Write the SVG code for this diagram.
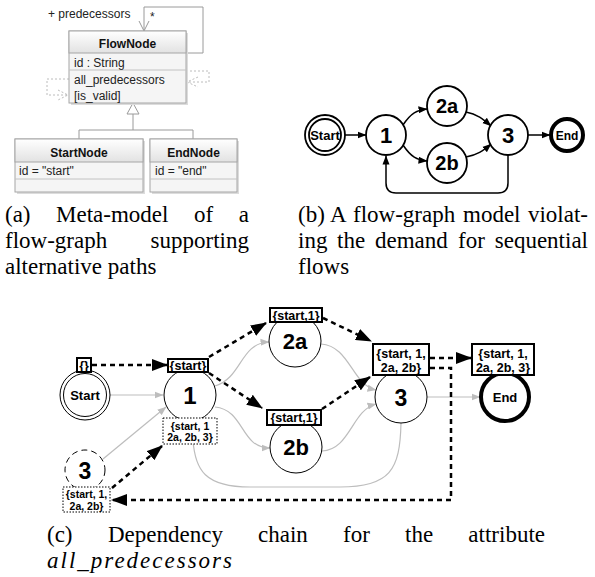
<svg xmlns="http://www.w3.org/2000/svg" width="595" height="577" viewBox="0 0 595 577">
<defs>
<linearGradient id="hdr" x1="0" y1="0" x2="0" y2="1"><stop offset="0" stop-color="#ffffff"/><stop offset="1" stop-color="#e2e2e2"/></linearGradient>
<marker id="ab" markerUnits="userSpaceOnUse" markerWidth="9" markerHeight="8" refX="8.5" refY="4" orient="auto"><path d="M0,0.5 L9,4 L0,7.5 z" fill="#000"/></marker>
<marker id="ad" markerUnits="userSpaceOnUse" markerWidth="16" markerHeight="12" refX="15" refY="6" orient="auto"><path d="M0,0 L16,6 L0,12 z" fill="#000"/></marker>
<marker id="ag" markerUnits="userSpaceOnUse" markerWidth="9" markerHeight="8" refX="8.5" refY="4" orient="auto"><path d="M0,0.5 L9,4 L0,7.5 z" fill="#bdbdbd"/></marker>
</defs>
<style>
.cap{font-family:"Liberation Serif","Times New Roman",serif;font-size:23px;fill:#000}
.capi{font-family:"Liberation Serif","Times New Roman",serif;font-size:23px;font-style:italic;letter-spacing:2px;fill:#000}
.uml{font-family:"Liberation Sans",Arial,sans-serif;font-size:12px;fill:#222}
.umlb{font-family:"Liberation Sans",Arial,sans-serif;font-size:12px;font-weight:bold;fill:#111;text-anchor:middle}
.box{fill:#f5f5f5;stroke:#a6a6a6;stroke-width:1}
.hd{fill:url(#hdr);stroke:#a6a6a6;stroke-width:1}
.shd{fill:#dcdcdc}
.div{stroke:#c2c2c2;stroke-width:1}
.uline{fill:none;stroke:#9a9a9a;stroke-width:1}
.udash{fill:none;stroke:#bcbcbc;stroke-width:1;stroke-dasharray:2 2}
.bn{fill:#fff;stroke:#000;stroke-width:1.8}
.bt{font-family:"Liberation Sans",Arial,sans-serif;font-weight:bold;text-anchor:middle;fill:#000}
.be{fill:none;stroke:#000;stroke-width:1.5}
.cn{fill:#fff;stroke:#000;stroke-width:1}
.ge{fill:none;stroke:#bdbdbd;stroke-width:1.2}
.de{fill:none;stroke:#000;stroke-width:2.5;stroke-dasharray:5 4}
.lb{fill:#fff;stroke:#000;stroke-width:2}
.lbd{fill:#fff;stroke:#000;stroke-width:1;stroke-dasharray:1.5 1.5}
.lt{font-family:"Liberation Sans",Arial,sans-serif;font-weight:bold;font-size:12.5px;text-anchor:middle;fill:#000}
.ls{font-family:"Liberation Sans",Arial,sans-serif;font-weight:bold;font-size:10.5px;text-anchor:middle;fill:#000}
</style>

<!-- (a) meta-model -->
<g id="a-connectors">
<path class="uline" d="M144,31 V7 H203 V53 H186"/>
<path class="uline" d="M139,21 L144,31 L149,21"/>
<path class="udash" d="M69,79 H47 V95 H69"/>
<path class="udash" d="M58,90 L68,95 L58,100"/>
<path class="udash" d="M186,71 H209 V82 H186"/>
<path class="udash" d="M198,77 L187,82 L198,87"/>
<path class="uline" d="M133,114 V130 M79,139 V130 H193 V139"/>
<path d="M133,103 L127,114 H139 z" fill="#fff" stroke="#9a9a9a"/>
<text class="uml" x="48" y="18">+ predecessors</text>
<text class="uml" x="150" y="21">*</text>
</g>
<g id="FlowNode">
<rect class="shd" x="71" y="33" width="117" height="72"/>
<rect class="box" x="69" y="31" width="117" height="72"/>
<rect class="hd" x="69" y="31" width="117" height="22"/>
<line class="div" x1="69" y1="70" x2="186" y2="70"/>
<text class="umlb" x="127.5" y="48">FlowNode</text>
<text class="uml" x="74" y="67">id : String</text>
<text class="uml" x="74" y="84">all_predecessors</text>
<text class="uml" x="74" y="100">[is_valid]</text>
</g>
<g id="StartNode">
<rect class="shd" x="17" y="141" width="128" height="53"/>
<rect class="box" x="15" y="139" width="128" height="53"/>
<rect class="hd" x="15" y="139" width="128" height="23"/>
<line class="div" x1="15" y1="179" x2="143" y2="179"/>
<text class="umlb" x="79" y="157">StartNode</text>
<text class="uml" x="19" y="175">id = "start"</text>
</g>
<g id="EndNode">
<rect class="shd" x="152" y="141" width="87" height="53"/>
<rect class="box" x="150" y="139" width="87" height="53"/>
<rect class="hd" x="150" y="139" width="87" height="23"/>
<line class="div" x1="150" y1="179" x2="237" y2="179"/>
<text class="umlb" x="193.5" y="157">EndNode</text>
<text class="uml" x="155" y="175">id = "end"</text>
</g>

<!-- (b) flow graph -->
<g id="b-connectors">
<line class="be" x1="345" y1="135" x2="366" y2="135" marker-end="url(#ab)"/>
<path class="be" d="M403,125 C411,113 417,110 427,109" marker-end="url(#ab)"/>
<path class="be" d="M403,145 C411,157 417,160 427,161" marker-end="url(#ab)"/>
<path class="be" d="M466,112 C477,114 483,119 491,126" marker-end="url(#ab)"/>
<path class="be" d="M466,157 C477,155 483,151 491,144" marker-end="url(#ab)"/>
<line class="be" x1="528" y1="135" x2="550" y2="135" marker-end="url(#ab)"/>
<path class="be" d="M508,155 V183 Q508,193 498,193 H396 Q386,193 386,183 V156" marker-end="url(#ab)"/>
</g>
<g id="b-Start"><circle class="bn" cx="325" cy="135" r="20"/><circle class="bn" cx="325" cy="135" r="16"/><text class="bt" x="325" y="139.5" font-size="13">Start</text></g>
<g id="b-1"><circle class="bn" cx="386" cy="135" r="20"/><text class="bt" x="386" y="143" font-size="22">1</text></g>
<g id="b-2a"><circle class="bn" cx="447" cy="106" r="20"/><text class="bt" x="447" y="113" font-size="20">2a</text></g>
<g id="b-2b"><circle class="bn" cx="447" cy="163" r="20"/><text class="bt" x="447" y="170" font-size="20">2b</text></g>
<g id="b-3"><circle class="bn" cx="508" cy="135" r="20"/><text class="bt" x="508" y="143" font-size="22">3</text></g>
<g id="b-End"><circle cx="567" cy="135" r="16" fill="#fff" stroke="#000" stroke-width="4"/><text class="bt" x="567" y="139.5" font-size="12">End</text></g>

<!-- captions a / b -->
<g id="caption-a">
<text class="cap" y="222"><tspan x="5">(a)</tspan><tspan x="56">Meta-model</tspan><tspan x="194">of</tspan><tspan x="249" text-anchor="end">a</tspan></text>
<text class="cap" y="248"><tspan x="5">flow-graph</tspan><tspan x="249" text-anchor="end">supporting</tspan></text>
<text class="cap" x="5" y="274">alternative paths</text>
</g>
<g id="caption-b">
<text class="cap" y="222"><tspan x="298">(b)</tspan><tspan x="330">A</tspan><tspan x="353">flow-graph</tspan><tspan x="463">model</tspan><tspan x="588" text-anchor="end">violat-</tspan></text>
<text class="cap" y="248"><tspan x="298">ing</tspan><tspan x="337">the</tspan><tspan x="375">demand</tspan><tspan x="458">for</tspan><tspan x="588" text-anchor="end">sequential</tspan></text>
<text class="cap" x="298" y="274">flows</text>
</g>

<!-- (c) dependency chain -->
<g id="c-connectors">
<line class="ge" x1="110" y1="395" x2="163" y2="395" marker-end="url(#ag)"/>
<line class="ge" x1="103" y1="459" x2="166" y2="407" marker-end="url(#ag)"/>
<path class="ge" d="M215,386 C242,378 240,343 269,342" marker-end="url(#ag)"/>
<path class="ge" d="M215,407 C245,410 240,448 270,448" marker-end="url(#ag)"/>
<path class="ge" d="M321,344 C350,346 352,385 376,390" marker-end="url(#ag)"/>
<path class="ge" d="M322,451 C350,450 352,410 376,404" marker-end="url(#ag)"/>
<line class="ge" x1="427" y1="397" x2="480" y2="397" marker-end="url(#ag)"/>
<path class="ge" d="M401,423 C400,470 390,487 340,487 H250 C205,487 195,470 193,440"/>
<line class="de" x1="92" y1="365" x2="167" y2="365" marker-end="url(#ad)"/>
<line class="de" x1="209" y1="357" x2="266" y2="323" marker-end="url(#ad)"/>
<line class="de" x1="209" y1="373" x2="262" y2="408" marker-end="url(#ad)"/>
<line class="de" x1="323" y1="318" x2="371" y2="341" marker-end="url(#ad)"/>
<line class="de" x1="322" y1="409" x2="370" y2="377" marker-end="url(#ad)"/>
<line class="de" x1="430" y1="358" x2="471" y2="358" marker-end="url(#ad)"/>
<path class="de" d="M430,368 H451 V500 H112" marker-end="url(#ad)"/>
<line class="de" x1="112" y1="488" x2="162" y2="446" marker-end="url(#ad)"/>
</g>
<g id="c-Start">
<circle class="cn" cx="85" cy="395" r="25"/><circle class="cn" cx="85" cy="395" r="21.5"/>
<text class="bt" x="85" y="400" font-size="13">Start</text>
<rect class="lb" x="77" y="358" width="14" height="14"/><text class="lt" x="84" y="369.5" font-size="11">{}</text>
</g>
<g id="c-1">
<circle class="cn" cx="190" cy="395" r="26"/><text class="bt" x="190" y="404" font-size="24">1</text>
<rect class="lb" x="168" y="359" width="40" height="13"/><text class="lt" x="188" y="370">{start}</text>
<rect class="lbd" x="163" y="418" width="54" height="26"/>
<text class="ls" x="190" y="429.5">{start, 1</text><text class="ls" x="190" y="441">2a, 2b, 3}</text>
</g>
<g id="c-2a">
<circle class="cn" cx="295" cy="341" r="26"/><text class="bt" x="295" y="349" font-size="22">2a</text>
<rect class="lb" x="270" y="308" width="52" height="14"/><text class="lt" x="296" y="319.5">{start,1}</text>
</g>
<g id="c-2b">
<circle class="cn" cx="296" cy="447" r="26"/><text class="bt" x="296" y="455" font-size="22">2b</text>
<rect class="lb" x="267" y="410" width="54" height="15"/><text class="lt" x="294" y="422">{start,1}</text>
</g>
<g id="c-3">
<circle class="cn" cx="401" cy="397" r="26"/><text class="bt" x="401" y="405.5" font-size="23">3</text>
<rect class="lb" x="373" y="344" width="56" height="31"/>
<text class="lt" x="401" y="357.5">{start, 1,</text><text class="lt" x="401" y="371.5">2a, 2b}</text>
</g>
<g id="c-End">
<circle cx="505" cy="397" r="24" fill="#fff" stroke="#000" stroke-width="4"/><text class="bt" x="505" y="401.5" font-size="13">End</text>
<rect class="lb" x="472" y="344" width="62" height="31"/>
<text class="lt" x="503" y="357.5">{start, 1,</text><text class="lt" x="503" y="371.5">2a, 2b, 3}</text>
</g>
<g id="c-3-copy">
<circle cx="85" cy="470" r="20" fill="#fff" stroke="#000" stroke-width="1" stroke-dasharray="6 4"/>
<text class="bt" x="85" y="479" font-size="23">3</text>
<rect class="lbd" x="63" y="487" width="47" height="25"/>
<text class="ls" x="86.5" y="498" font-size="10">{start, 1,</text><text class="ls" x="86.5" y="509.5" font-size="10">2a, 2b}</text>
</g>

<g id="caption-c">
<text class="cap" y="542"><tspan x="47">(c)</tspan><tspan x="108">Dependency</tspan><tspan x="258">chain</tspan><tspan x="343">for</tspan><tspan x="405">the</tspan><tspan x="545" text-anchor="end">attribute</tspan></text>
<text class="capi" x="47" y="568">all_predecessors</text>
</g>
</svg>
